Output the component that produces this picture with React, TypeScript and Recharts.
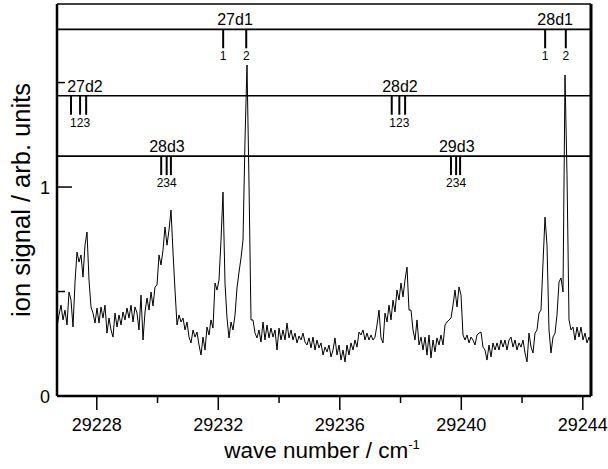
import { Line, LineChart, ReferenceDot, ReferenceLine, XAxis, YAxis } from "recharts";

const FONT = "'Liberation Sans', Arial, sans-serif";

// spectrum: uniform scan, one reading per step
const waveStart = 29226.69;
const waveStep = 0.065844;
const signal = [
  0.330, 0.388, 0.435, 0.364, 0.411, 0.340, 0.498, 0.459, 0.330, 0.545,
  0.689, 0.641, 0.675, 0.569, 0.722, 0.785, 0.555, 0.426, 0.397, 0.349,
  0.421, 0.349, 0.426, 0.373, 0.435, 0.301, 0.373, 0.316, 0.282, 0.397,
  0.330, 0.388, 0.340, 0.402, 0.364, 0.421, 0.373, 0.435, 0.354, 0.426,
  0.397, 0.316, 0.483, 0.268, 0.402, 0.469, 0.411, 0.498, 0.431, 0.522,
  0.531, 0.675, 0.627, 0.699, 0.809, 0.722, 0.794, 0.890, 0.689, 0.507,
  0.340, 0.388, 0.354, 0.373, 0.316, 0.354, 0.282, 0.254, 0.316, 0.282,
  0.306, 0.244, 0.196, 0.282, 0.220, 0.330, 0.292, 0.364, 0.325, 0.541,
  0.507, 0.555, 0.746, 0.976, 0.541, 0.373, 0.278, 0.354, 0.316, 0.388,
  0.517, 0.593, 0.660, 0.746, 1.225, 1.584, 1.019, 0.364, 0.364, 0.301,
  0.278, 0.316, 0.258, 0.354, 0.268, 0.340, 0.278, 0.325, 0.282, 0.316,
  0.220, 0.325, 0.268, 0.316, 0.268, 0.349, 0.278, 0.316, 0.268, 0.301,
  0.254, 0.287, 0.268, 0.301, 0.258, 0.244, 0.278, 0.230, 0.282, 0.220,
  0.268, 0.230, 0.254, 0.196, 0.234, 0.211, 0.244, 0.187, 0.220, 0.278,
  0.196, 0.244, 0.172, 0.220, 0.163, 0.244, 0.196, 0.254, 0.220, 0.268,
  0.234, 0.306, 0.292, 0.316, 0.268, 0.301, 0.268, 0.292, 0.268, 0.282,
  0.340, 0.411, 0.278, 0.254, 0.397, 0.354, 0.435, 0.364, 0.459, 0.402,
  0.507, 0.459, 0.541, 0.474, 0.555, 0.617, 0.411, 0.411, 0.316, 0.268,
  0.364, 0.244, 0.282, 0.220, 0.282, 0.196, 0.292, 0.182, 0.268, 0.211,
  0.278, 0.244, 0.292, 0.244, 0.340, 0.354, 0.364, 0.373, 0.435, 0.507,
  0.426, 0.522, 0.483, 0.292, 0.268, 0.292, 0.254, 0.282, 0.268, 0.244,
  0.292, 0.301, 0.306, 0.234, 0.220, 0.172, 0.244, 0.187, 0.254, 0.220,
  0.254, 0.220, 0.268, 0.234, 0.268, 0.220, 0.268, 0.282, 0.234, 0.268,
  0.220, 0.254, 0.234, 0.268, 0.206, 0.163, 0.301, 0.234, 0.206, 0.301,
  0.316, 0.397, 0.411, 0.636, 0.856, 0.722, 0.316, 0.206, 0.282, 0.301,
  0.388, 0.545, 0.565, 0.498, 1.536, 1.057, 0.364, 0.316, 0.330, 0.268,
  0.330, 0.282, 0.330, 0.268, 0.301, 0.254, 0.282, 0.254,
];

const xTicks = [29228, 29230, 29232, 29234, 29236, 29238, 29240, 29242, 29244];
const xLabelled = [29228, 29232, 29236, 29240, 29244];
const yTicks = [0, 0.5, 1, 1.5];
const yLabelled = [0, 1];

// assignment combs
const levelY = [1.755, 1.437, 1.148];
const groupNames = ["27d1", "28d1", "27d2", "28d2", "28d3", "29d3"];
const groupLevel = [0, 0, 1, 1, 2, 2];
const groupNameAt = [29232.55, 29243.09, 29227.61, 29237.98, 29230.31, 29239.85];
const groupLines = [
  [29232.16, 29232.92],
  [29242.76, 29243.44],
  [29227.15, 29227.45, 29227.65],
  [29237.71, 29237.96, 29238.15],
  [29230.12, 29230.30, 29230.44],
  [29239.66, 29239.83, 29239.96],
];
const groupNumbers = [
  ["1", "2"],
  ["1", "2"],
  ["1", "2", "3"],
  ["1", "2", "3"],
  ["2", "3", "4"],
  ["2", "3", "4"],
];

const xMin = 29226.69;
const xMax = 29244.27;
const yMax = 1.876;

const data = signal.map((s, i) => ({ wn: waveStart + i * waveStep, s }));

function XTick({ x, y, payload }: any) {
  const major = xLabelled.includes(payload.value);
  return (
    <g>
      <line x1={x} y1={y} x2={x} y2={y + (major ? 14 : 7)} stroke="#000" strokeWidth={1.5} />
      {major && (
        <text x={x} y={y + 35} textAnchor="middle" fontSize={18} fontFamily={FONT} fill="#000">
          {payload.value}
        </text>
      )}
    </g>
  );
}

function YTick({ x, y, payload }: any) {
  const major = yLabelled.includes(payload.value);
  return (
    <g>
      <line x1={x} y1={y} x2={x + (major ? 15 : 8)} y2={y} stroke="#000" strokeWidth={1.5} />
      {major && (
        <text x={x - 7} y={y + 6.5} textAnchor="end" fontSize={18} fontFamily={FONT} fill="#000">
          {payload.value}
        </text>
      )}
    </g>
  );
}

function stickShape(label: string) {
  return (p: any) => (
    <g>
      <line x1={p.cx} y1={p.cy} x2={p.cx} y2={p.cy + 19} stroke="#000" strokeWidth={2} />
      {label && (
        <text x={p.cx} y={p.cy + 31} textAnchor="middle" fontSize={12} fontFamily={FONT} fill="#000">
          {label}
        </text>
      )}
    </g>
  );
}

function nameShape(name: string) {
  return (p: any) => (
    <text x={p.cx} y={p.cy - 4} textAnchor="middle" fontSize={16} fontFamily={FONT} fill="#000">
      {name}
    </text>
  );
}

export default function App() {
  return (
    <div style={{ position: "absolute", left: 0, top: 0 }}>
      <LineChart
        width={608}
        height={469}
        data={data}
        margin={{ top: 4, right: 17, bottom: 0, left: 0 }}
        style={{ fontFamily: FONT }}
      >
        <XAxis
          dataKey="wn"
          type="number"
          domain={[xMin, xMax]}
          ticks={xTicks}
          allowDataOverflow
          height={73}
          tickSize={0}
          tickMargin={0}
          tickLine={false}
          tick={<XTick />}
          axisLine={{ stroke: "#000", strokeWidth: 2.5 }}
          label={{
            content: () => (
              <text x={322} y={458} textAnchor="middle" fontSize={22.5} fontFamily={FONT} fill="#000">
                wave number / cm
                <tspan fontSize={13} dy={-9}>-1</tspan>
              </text>
            ),
          }}
        />
        <YAxis
          type="number"
          domain={[0, yMax]}
          ticks={yTicks}
          allowDataOverflow
          width={57}
          tickSize={0}
          tickMargin={0}
          tickLine={false}
          tick={<YTick />}
          axisLine={{ stroke: "#000", strokeWidth: 2.5 }}
          label={{
            content: () => (
              <text
                x={30}
                y={200}
                transform="rotate(-90, 30, 200)"
                textAnchor="middle"
                fontSize={25.5}
                fontFamily={FONT}
                fill="#000"
              >
                ion signal / arb. units
              </text>
            ),
          }}
        />
        <ReferenceLine y={yMax} stroke="#000" strokeWidth={1.5} />
        <ReferenceLine x={xMax} stroke="#000" strokeWidth={3} />
        {levelY.map((ly) => (
          <ReferenceLine key={ly} y={ly} stroke="#000" strokeWidth={1.7} />
        ))}
        {groupNames.map((name, g) => (
          <ReferenceDot
            key={name}
            x={groupNameAt[g]}
            y={levelY[groupLevel[g]]}
            r={0}
            shape={nameShape(name)}
          />
        ))}
        {groupLines.map((lines, g) =>
          lines.map((pos, k) => {
            const nums = groupNumbers[g];
            let label = "";
            if (lines.length === 2) label = nums[k];
            else if (k === 1) label = nums.join("");
            return (
              <ReferenceDot
                key={`${g}-${k}`}
                x={pos}
                y={levelY[groupLevel[g]]}
                r={0}
                shape={stickShape(label)}
              />
            );
          })
        )}
        <Line
          dataKey="s"
          type="linear"
          stroke="#000"
          strokeWidth={1}
          dot={false}
          isAnimationActive={false}
        />
      </LineChart>
    </div>
  );
}
